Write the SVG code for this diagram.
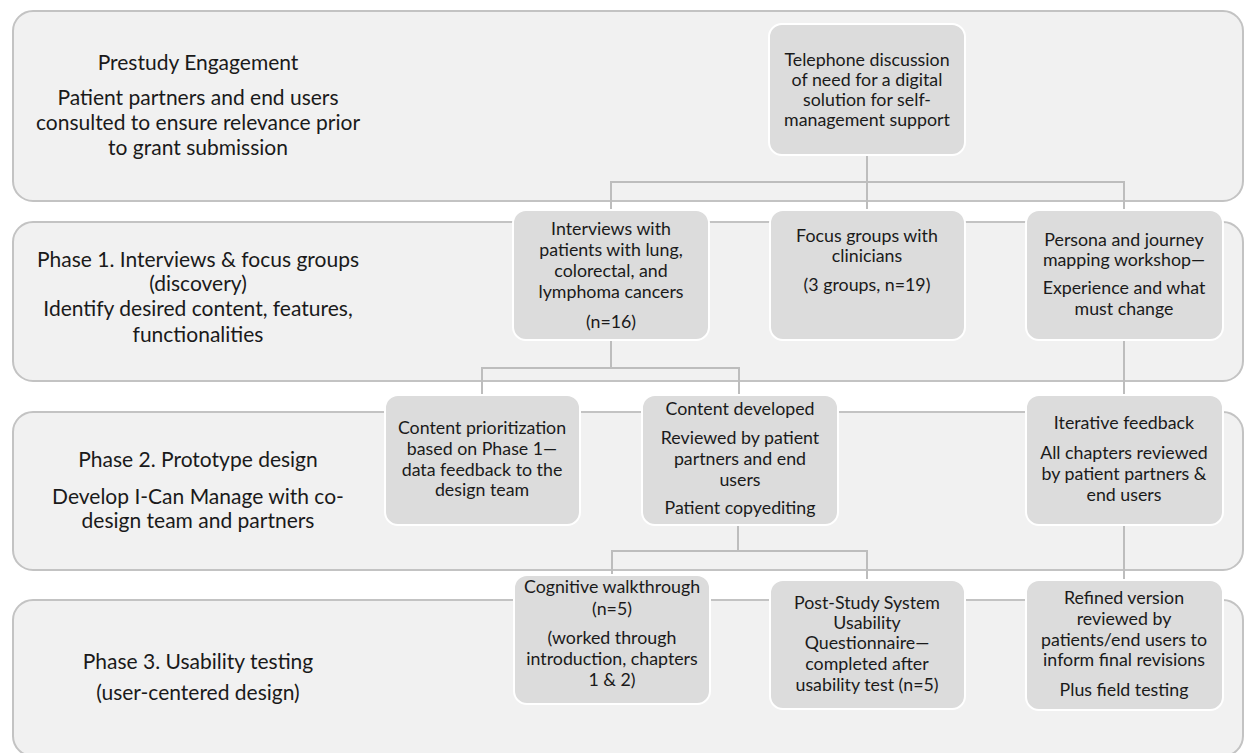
<svg xmlns="http://www.w3.org/2000/svg" width="1246" height="753" viewBox="0 0 1246 753">
<style>
.band{fill:#f1f1f1;stroke:#c3c3c3;stroke-width:2}
.node{fill:#dcdcdc;stroke:#ffffff;stroke-width:2}
.conn{fill:none;stroke:#bdbdbd;stroke-width:2}
.bt{font-family:Lato,"Liberation Sans",sans-serif;font-size:21px;fill:#1a1a1a;text-anchor:middle}
.nt{font-family:Lato,"Liberation Sans",sans-serif;font-size:17.8px;fill:#1a1a1a;text-anchor:middle}
</style>
<rect width="1246" height="753" fill="#ffffff"/>
<g id="band-prestudy">
<rect class="band" x="13" y="11" width="1230" height="190" rx="20"/>
<text class="bt"><tspan x="198" y="70">Prestudy Engagement</tspan><tspan x="198" y="105">Patient partners and end users</tspan><tspan x="198" y="130">consulted to ensure relevance prior</tspan><tspan x="198" y="155">to grant submission</tspan></text>
</g>
<g id="band-phase1">
<rect class="band" x="13" y="222" width="1230" height="159" rx="20"/>
<text class="bt"><tspan x="198" y="267">Phase 1. Interviews &amp; focus groups</tspan><tspan x="198" y="291">(discovery)</tspan><tspan x="198" y="316">Identify desired content, features,</tspan><tspan x="198" y="342">functionalities</tspan></text>
</g>
<g id="band-phase2">
<rect class="band" x="13" y="412" width="1230" height="158" rx="20"/>
<text class="bt"><tspan x="198" y="467">Phase 2. Prototype design</tspan><tspan x="198" y="504">Develop I-Can Manage with co-</tspan><tspan x="198" y="528">design team and partners</tspan></text>
</g>
<g id="band-phase3">
<rect class="band" x="13" y="600" width="1230" height="156" rx="20"/>
<text class="bt"><tspan x="198" y="669">Phase 3. Usability testing</tspan><tspan x="198" y="700">(user-centered design)</tspan></text>
</g>
<g id="connectors">
<path class="conn" d="M867 155 V210 M611 210 V182 H1124 V210"/>
<path class="conn" d="M611 340 V368 M482 395 V368 H739 V395"/>
<path class="conn" d="M1124 340 V395"/>
<path class="conn" d="M738 525 V551 M612 575 V551 H867 V580"/>
<path class="conn" d="M1124 525 V580"/>
</g>
<g id="node-telephone">
<rect class="node" x="769" y="24" width="196" height="131" rx="13"/>
<text class="nt"><tspan x="867" y="66">Telephone discussion</tspan><tspan x="867" y="86">of need for a digital</tspan><tspan x="867" y="106">solution for self-</tspan><tspan x="867" y="126">management support</tspan></text>
</g>
<g id="node-interviews">
<rect class="node" x="513" y="210" width="196" height="130" rx="13"/>
<text class="nt"><tspan x="611" y="235">Interviews with</tspan><tspan x="611" y="256">patients with lung,</tspan><tspan x="611" y="277">colorectal, and</tspan><tspan x="611" y="298">lymphoma cancers</tspan><tspan x="611" y="328">(n=16)</tspan></text>
</g>
<g id="node-focus">
<rect class="node" x="770" y="210" width="195" height="130" rx="13"/>
<text class="nt"><tspan x="867" y="242">Focus groups with</tspan><tspan x="867" y="262">clinicians</tspan><tspan x="867" y="291">(3 groups, n=19)</tspan></text>
</g>
<g id="node-persona">
<rect class="node" x="1026" y="210" width="197" height="130" rx="13"/>
<text class="nt"><tspan x="1124" y="246">Persona and journey</tspan><tspan x="1124" y="266">mapping workshop—</tspan><tspan x="1124" y="294">Experience and what</tspan><tspan x="1124" y="315">must change</tspan></text>
</g>
<g id="node-prioritization">
<rect class="node" x="385" y="395" width="195" height="130" rx="13"/>
<text class="nt"><tspan x="482" y="434">Content prioritization</tspan><tspan x="482" y="455">based on Phase 1—</tspan><tspan x="482" y="476">data feedback to the</tspan><tspan x="482" y="496">design team</tspan></text>
</g>
<g id="node-developed">
<rect class="node" x="642" y="395" width="196" height="130" rx="13"/>
<text class="nt"><tspan x="740" y="415">Content developed</tspan><tspan x="740" y="444">Reviewed by patient</tspan><tspan x="740" y="465">partners and end</tspan><tspan x="740" y="486">users</tspan><tspan x="740" y="514">Patient copyediting</tspan></text>
</g>
<g id="node-iterative">
<rect class="node" x="1026" y="395" width="197" height="130" rx="13"/>
<text class="nt"><tspan x="1124" y="429">Iterative feedback</tspan><tspan x="1124" y="459">All chapters reviewed</tspan><tspan x="1124" y="480">by patient partners &amp;</tspan><tspan x="1124" y="501">end users</tspan></text>
</g>
<g id="node-cognitive">
<rect class="node" x="514" y="575" width="196" height="129" rx="13"/>
<text class="nt"><tspan x="612" y="593">Cognitive walkthrough</tspan><tspan x="612" y="615">(n=5)</tspan><tspan x="612" y="644">(worked through</tspan><tspan x="612" y="665">introduction, chapters</tspan><tspan x="612" y="686">1 &amp; 2)</tspan></text>
</g>
<g id="node-poststudy">
<rect class="node" x="770" y="580" width="195" height="129" rx="13"/>
<text class="nt"><tspan x="867" y="609">Post-Study System</tspan><tspan x="867" y="629">Usability</tspan><tspan x="867" y="649">Questionnaire—</tspan><tspan x="867" y="670">completed after</tspan><tspan x="867" y="691">usability test (n=5)</tspan></text>
</g>
<g id="node-refined">
<rect class="node" x="1026" y="580" width="197" height="130" rx="13"/>
<text class="nt"><tspan x="1124" y="604">Refined version</tspan><tspan x="1124" y="625">reviewed by</tspan><tspan x="1124" y="646">patients/end users to</tspan><tspan x="1124" y="666">inform final revisions</tspan><tspan x="1124" y="696">Plus field testing</tspan></text>
</g>
</svg>
